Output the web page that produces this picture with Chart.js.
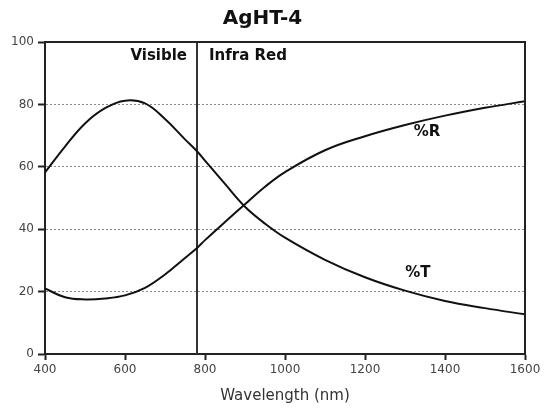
<!DOCTYPE html>
<html>
<head>
<meta charset="utf-8">
<title>AgHT-4</title>
<script src="https://cdn.jsdelivr.net/npm/chart.js@4/dist/chart.umd.min.js"></script>
<style>
    body { margin: 0; background: #ffffff; }
    #chart_wrap { width: 544px; height: 410px; }
</style>
</head>
<body>
<div id="chart_wrap"><canvas id="chart_aght" width="544" height="410"></canvas></div>
<script>
    const wavelengths = [400, 450, 500, 550, 600, 650, 700, 750, 780, 800, 850, 900, 950, 1000, 1100, 1200, 1300, 1400, 1500, 1600];
    const transmission = [58.2, 66.5, 73.9, 78.8, 81.2, 80.3, 75.3, 68.8, 65.0, 62.0, 54.5, 47.2, 41.8, 37.3, 30.2, 24.6, 20.3, 17.0, 14.7, 12.7];
    const reflection = [21.0, 18.2, 17.5, 17.8, 18.8, 21.2, 25.5, 30.8, 34.0, 36.5, 42.3, 48.0, 53.6, 58.3, 65.3, 69.8, 73.4, 76.4, 78.9, 81.0];
    const visible_limit = 780;
    const x_ticks = [400, 600, 800, 1000, 1200, 1400, 1600];
    const y_ticks = [0, 20, 40, 60, 80, 100];

    const ctxA = document.getElementById('chart_aght');
    const font_family = '"DejaVu Sans", Verdana, sans-serif';

    function toPoints(xs, ys) {
        return xs.map((x, i) => ({x: x, y: ys[i]}));
    }

    // frame, region names and curve names
    const extras = {
        id: 'extras',
        afterDatasetsDraw(chart) {
            const ctx = chart.ctx;
            const area = chart.chartArea;
            const xs = chart.scales.x;
            const ys = chart.scales.y;
            ctx.save();
            ctx.strokeStyle = '#222';
            ctx.lineWidth = 2;
            ctx.beginPath();
            ctx.moveTo(area.left, area.top);
            ctx.lineTo(area.right, area.top);
            ctx.lineTo(area.right, area.bottom);
            ctx.stroke();

            ctx.fillStyle = '#111';
            ctx.font = 'bold 15px ' + font_family;
            ctx.textBaseline = 'middle';
            const lx = xs.getPixelForValue(visible_limit);
            ctx.textAlign = 'right';
            ctx.fillText('Visible', lx - 10, area.top + 14);
            ctx.textAlign = 'left';
            ctx.fillText('Infra Red', lx + 12, area.top + 14);

            ctx.textAlign = 'center';
            ctx.fillText('%R', xs.getPixelForValue(1355), ys.getPixelForValue(71));
            ctx.fillText('%T', xs.getPixelForValue(1332), ys.getPixelForValue(26));
            ctx.restore();
        }
    };

    new Chart(ctxA, {
        type: 'line',
        data: {
            datasets: [{
                label: '%T',
                data: toPoints(wavelengths, transmission),
                borderColor: '#111',
                borderWidth: 2,
                pointRadius: 0,
                tension: 0.4
            }, {
                label: '%R',
                data: toPoints(wavelengths, reflection),
                borderColor: '#111',
                borderWidth: 2,
                pointRadius: 0,
                tension: 0.4
            }, {
                label: 'limit',
                data: [{x: visible_limit, y: y_ticks[0]}, {x: visible_limit, y: y_ticks[y_ticks.length - 1]}],
                borderColor: '#333',
                borderWidth: 2,
                pointRadius: 0
            }]
        },
        options: {
            responsive: false,
            animation: false,
            layout: {
                padding: {left: 0, right: 19, top: 0, bottom: 0}
            },
            plugins: {
                legend: {
                    display: false
                },
                tooltip: {
                    enabled: false
                },
                title: {
                    display: true,
                    text: 'AgHT-4',
                    color: '#111',
                    font: {family: font_family, size: 20, weight: 'bold'},
                    padding: {top: 7, bottom: 11}
                }
            },
            scales: {
                x: {
                    type: 'linear',
                    min: x_ticks[0],
                    max: x_ticks[x_ticks.length - 1],
                    afterBuildTicks: (scale) => { scale.ticks = x_ticks.map(v => ({value: v})); },
                    afterFit: (scale) => { scale.height = 56; },
                    ticks: {
                        color: '#444',
                        padding: 3,
                        maxRotation: 0,
                        font: {family: font_family, size: 12},
                        callback: (v) => String(v)
                    },
                    grid: {
                        drawOnChartArea: false,
                        tickLength: 6,
                        tickWidth: 2,
                        tickColor: '#222'
                    },
                    border: {
                        color: '#222',
                        width: 2
                    },
                    title: {
                        display: true,
                        text: 'Wavelength (nm)',
                        color: '#333',
                        font: {family: font_family, size: 15},
                        padding: {top: 0, bottom: 5}
                    }
                },
                y: {
                    min: y_ticks[0],
                    max: y_ticks[y_ticks.length - 1],
                    afterBuildTicks: (scale) => { scale.ticks = y_ticks.map(v => ({value: v})); },
                    afterFit: (scale) => { scale.width = 45; },
                    ticks: {
                        color: '#444',
                        padding: 4,
                        font: {family: font_family, size: 12},
                        callback: (v) => String(v)
                    },
                    grid: {
                        color: (c) => (c.tick && c.tick.value > y_ticks[0] && c.tick.value < y_ticks[y_ticks.length - 1]) ? '#8a8a8a' : 'rgba(0,0,0,0)',
                        lineWidth: 1,
                        tickLength: 7,
                        tickWidth: 2,
                        tickColor: '#222'
                    },
                    border: {
                        color: '#222',
                        width: 2,
                        dash: [2, 2]
                    }
                }
            }
        },
        plugins: [extras]
    });
</script>
</body>
</html>
